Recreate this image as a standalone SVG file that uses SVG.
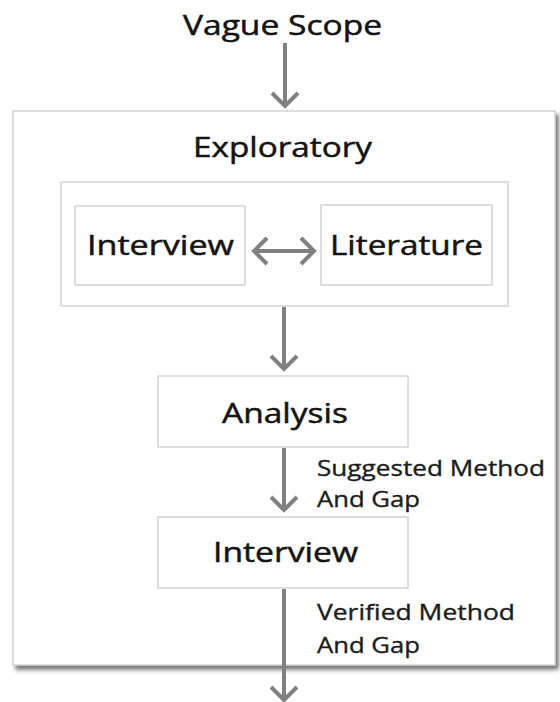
<svg xmlns="http://www.w3.org/2000/svg" width="560" height="702" viewBox="0 0 560 702">
  <style>
    .box { fill: #ffffff; stroke: #d3d3d3; stroke-width: 1.5; }
    .big { font-family: "Open Sans", "Liberation Sans", sans-serif; font-size: 28px; fill: #141414; stroke: #141414; stroke-width: 0.5; }
    .lbl { font-family: "Open Sans", "Liberation Sans", sans-serif; font-size: 22px; fill: #1c1c1c; stroke: #1c1c1c; stroke-width: 0.35; }
    .conn { stroke: #808080; stroke-width: 4; fill: none; }
  </style>
  <defs>
    <filter id="shadow" x="-5%" y="-5%" width="115%" height="115%">
      <feDropShadow dx="3" dy="4" stdDeviation="2" flood-color="#444444" flood-opacity="0.75"/>
    </filter>
    <marker id="ah" viewBox="-18 -16 20 32" refX="-1" refY="0" markerWidth="20" markerHeight="32" markerUnits="userSpaceOnUse" orient="auto-start-reverse">
      <path d="M-14,-13 L-1,0 L-14,13" fill="none" stroke="#808080" stroke-width="4"/>
    </marker>
  </defs>

  <rect width="560" height="702" fill="#ffffff"/>

  <g id="vague-scope">
    <text class="big" x="183" y="35" textLength="199" lengthAdjust="spacingAndGlyphs">Vague Scope</text>
  </g>

  <g id="exploratory">
    <rect class="box" x="13" y="111" width="542" height="554" filter="url(#shadow)"/>
    <text class="big" x="193" y="157" textLength="179" lengthAdjust="spacingAndGlyphs">Exploratory</text>
  </g>

  <g id="group">
    <rect class="box" x="61" y="182" width="447" height="124"/>
  </g>

  <g id="interview1">
    <rect class="box" x="75" y="206" width="170" height="79"/>
    <text class="big" x="87" y="255" textLength="147" lengthAdjust="spacingAndGlyphs">Interview</text>
  </g>

  <g id="literature">
    <rect class="box" x="321" y="205" width="171" height="80"/>
    <text class="big" x="330" y="255" textLength="153" lengthAdjust="spacingAndGlyphs">Literature</text>
  </g>

  <g id="analysis">
    <rect class="box" x="158" y="376" width="250" height="71"/>
    <text class="big" x="222" y="423" textLength="126" lengthAdjust="spacingAndGlyphs">Analysis</text>
  </g>

  <g id="interview2">
    <rect class="box" x="158" y="517" width="250" height="71"/>
    <text class="big" x="213" y="562" textLength="145" lengthAdjust="spacingAndGlyphs">Interview</text>
  </g>

  <g id="connectors">
    <line class="conn" x1="285" y1="43" x2="285" y2="106" marker-end="url(#ah)"/>
    <line class="conn" x1="254" y1="251" x2="314" y2="251" marker-start="url(#ah)" marker-end="url(#ah)"/>
    <line class="conn" x1="284" y1="307" x2="284" y2="369" marker-end="url(#ah)"/>
    <line class="conn" x1="284" y1="448" x2="284" y2="510" marker-end="url(#ah)"/>
    <line class="conn" x1="284" y1="589" x2="284" y2="700" marker-end="url(#ah)"/>
    <text class="lbl" x="317" y="476" textLength="228" lengthAdjust="spacingAndGlyphs">Suggested Method</text>
    <text class="lbl" x="317" y="507" textLength="103" lengthAdjust="spacingAndGlyphs">And Gap</text>
    <text class="lbl" x="317" y="620" textLength="198" lengthAdjust="spacingAndGlyphs">Verified Method</text>
    <text class="lbl" x="317" y="653" textLength="103" lengthAdjust="spacingAndGlyphs">And Gap</text>
  </g>
</svg>
